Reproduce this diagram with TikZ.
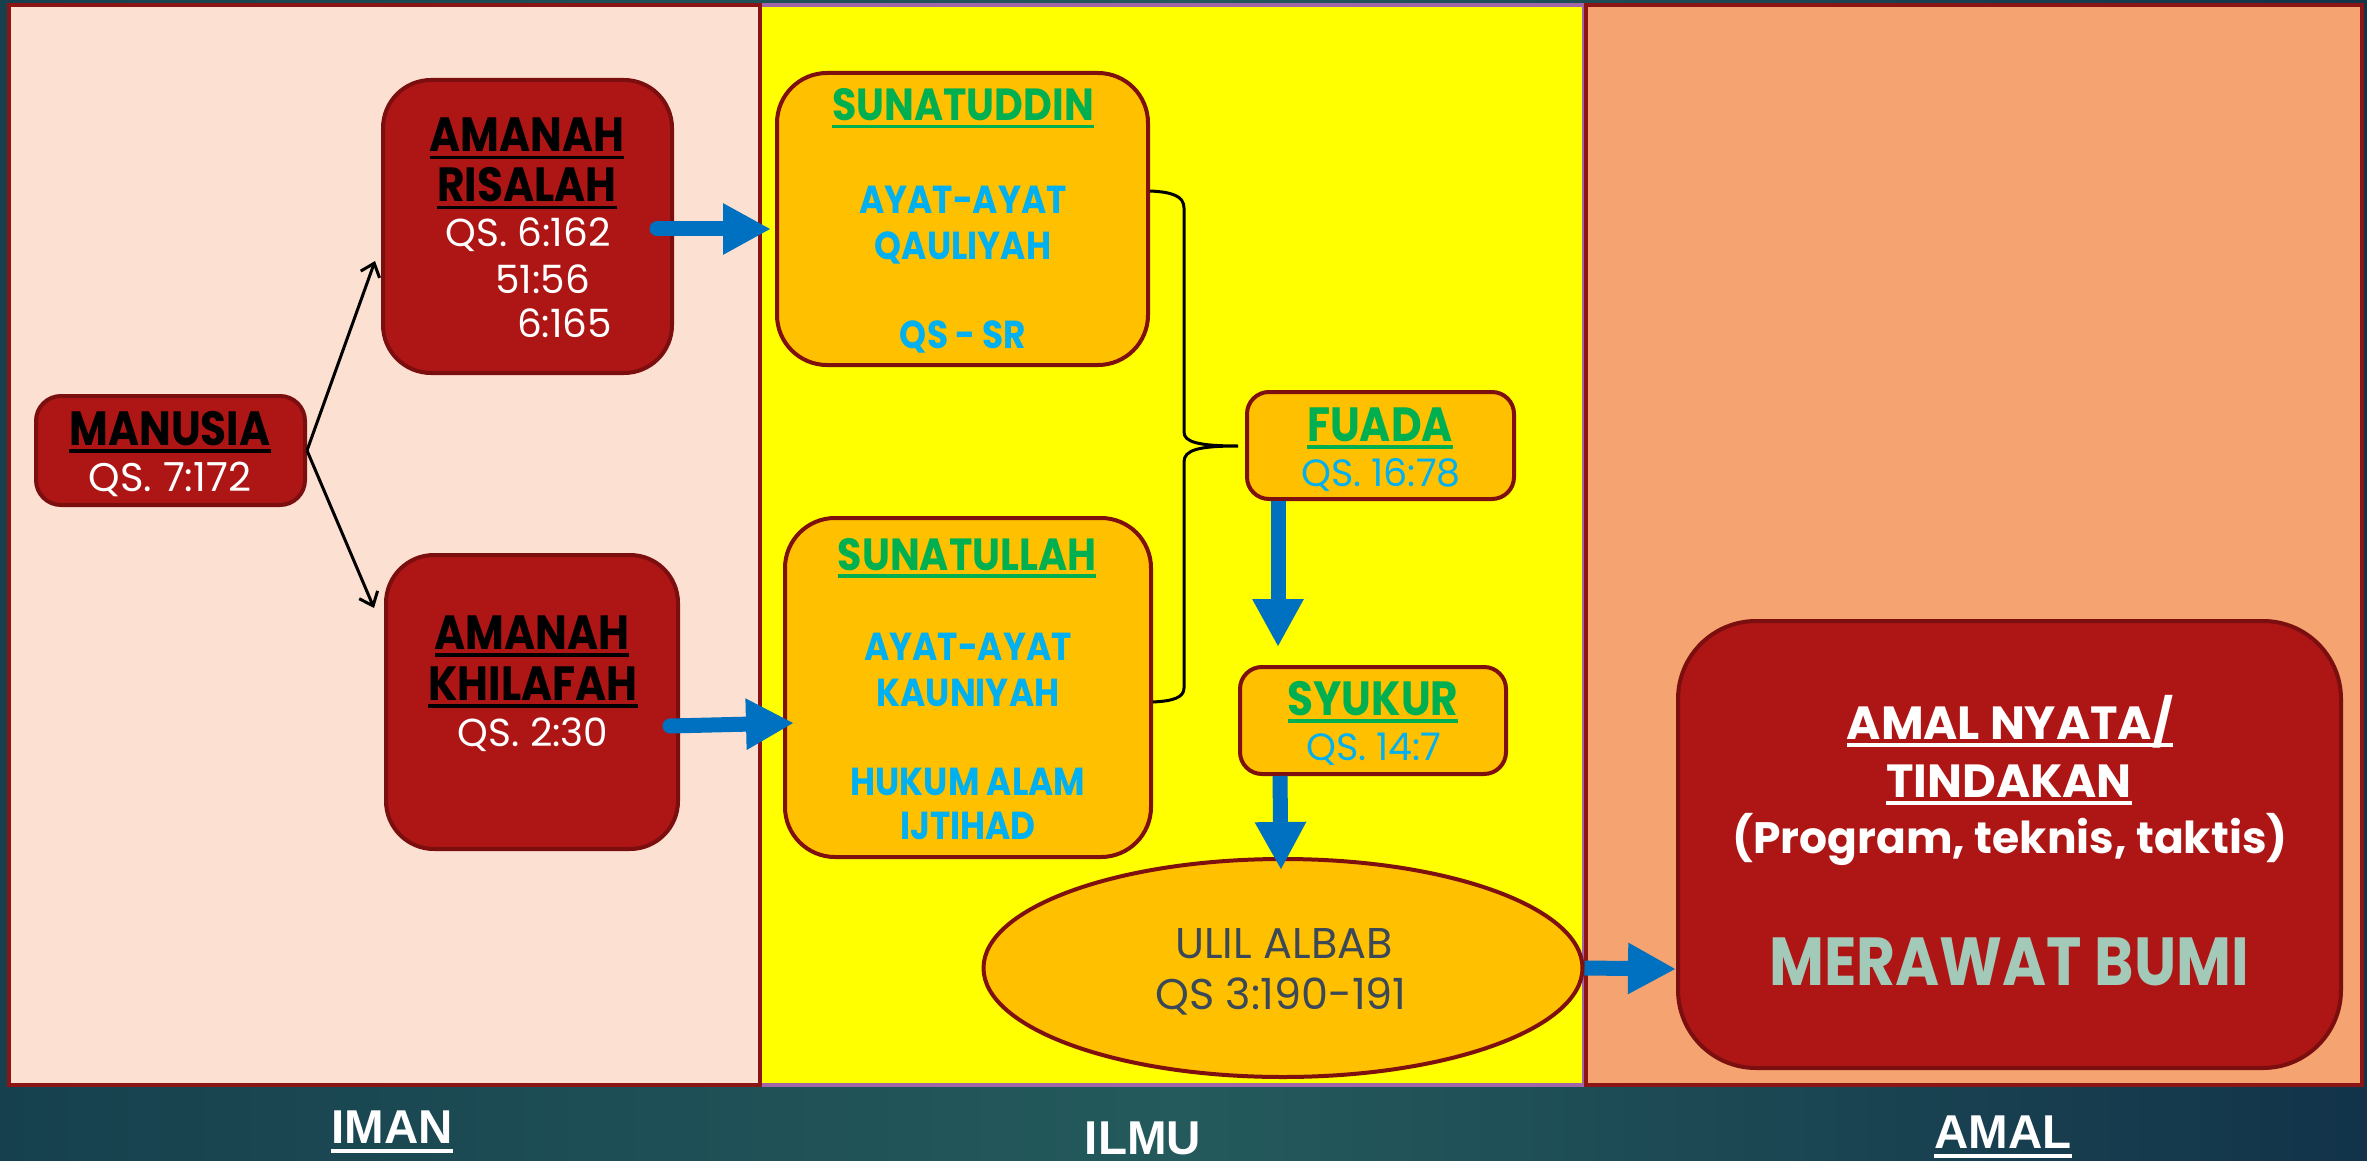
\documentclass[tikz,border=0pt]{standalone}
\usepackage{fontspec}
\setmainfont{Poppins}[FakeStretch=0.88]
\newfontfamily\popn{Poppins}
\newfontfamily\lblfont{Liberation Sans}
\newlength\uldp \setlength\uldp{4pt}
\newlength\ulth \setlength\ulth{3.5pt}
\newsavebox\ulbox
\newcommand\ulx[1]{\sbox\ulbox{#1}\rlap{\vrule height -\uldp depth \dimexpr\uldp+\ulth\relax width \wd\ulbox}\usebox\ulbox}
\usetikzlibrary{arrows.meta,shapes.geometric,calc}
\definecolor{bgleft}{HTML}{16404E}
\definecolor{bgmid}{HTML}{245A5C}
\definecolor{bgright}{HTML}{12334A}
\definecolor{imanfill}{HTML}{FCE0D1}
\definecolor{panelred}{HTML}{8B1414}
\definecolor{ilmuline}{HTML}{A066A8}
\definecolor{ilmufill}{HTML}{FFFF00}
\definecolor{amalfill}{HTML}{F4A371}
\definecolor{redfill}{HTML}{AE1515}
\definecolor{redline}{HTML}{7B0E0E}
\definecolor{orangefill}{HTML}{FFC000}
\definecolor{orangeline}{HTML}{7F1010}
\definecolor{txtgreen}{HTML}{00B050}
\definecolor{txtcyan}{HTML}{00B0F0}
\definecolor{arrowblue}{HTML}{0070C0}
\definecolor{txtdark}{HTML}{3A4858}
\definecolor{sage}{HTML}{A3C9B9}
\begin{document}
\begin{tikzpicture}[x=1pt,y=-1pt,
  panel/.style={line width=4pt},
  redbox/.style={draw=redline,line width=4pt,fill=redfill,rounded corners=#1,inner sep=0},
  orbox/.style={draw=orangeline,line width=4pt,fill=orangefill,rounded corners=#1,inner sep=0},
  txt/.style={anchor=base,inner sep=0},
  blk/.style={txt,text=black,font=\bfseries\fontsize{48}{54}\selectfont},
  wht/.style={txt,text=white,font=\popn\fontsize{39}{46}\selectfont},
  grn/.style={txt,text=txtgreen,font=\bfseries\fontsize{45}{52}\selectfont},
  cyb/.style={txt,text=txtcyan,font=\bfseries\fontsize{39}{46}\selectfont},
  cyr/.style={txt,text=txtcyan,font=\popn\fontsize{38}{44}\selectfont},
  drk/.style={txt,text=txtdark,font=\popn\fontsize{43}{50}\selectfont},
  whb/.style={txt,text=white,font=\popn\bfseries\fontsize{46.5}{52}\selectfont},
  lbl/.style={txt,text=white,font=\lblfont\bfseries\fontsize{47.5}{54}\selectfont},
  barb/.style={draw=black,line width=3pt,-{Straight Barb[length=12pt,width=20pt]}},
  bluearrow/.style={draw=arrowblue,line width=15pt,-{Triangle[length=48pt,width=48pt]}},
  bracket/.style={draw=black,line width=3pt}
]
\useasboundingbox (0,0) rectangle (2367,1161);
\shade[left color=bgleft,right color=bgright,middle color=bgmid] (0,0) rectangle (2367,1161);

% panels
\draw[panel,draw=ilmuline,fill=ilmufill] (760,5) rectangle (1584,1085);
\draw[panel,draw=panelred,fill=imanfill] (9,5) rectangle (760,1085);
\draw[panel,draw=panelred,fill=amalfill] (1586,5) rectangle (2362,1085);

% boxes
\node[redbox=25pt,minimum width=269pt,minimum height=109pt] (manusia) at (170.5,450.5) {};
\node[redbox=48pt,minimum width=289pt,minimum height=293pt] (risalah) at (527.5,226.5) {};
\node[redbox=48pt,minimum width=292pt,minimum height=294pt] (khilafah) at (532,702) {};
\node[orbox=50pt,minimum width=371pt,minimum height=292pt] (sunatuddin) at (962.5,219) {};
\node[orbox=50pt,minimum width=366pt,minimum height=339pt] (sunatullah) at (968,687.5) {};
\node[orbox=22pt,minimum width=267pt,minimum height=107pt] (fuada) at (1380.5,445.5) {};
\node[orbox=22pt,minimum width=266pt,minimum height=107pt] (syukur) at (1373,720.5) {};
\node[ellipse,draw=orangeline,line width=4pt,fill=orangefill,minimum width=599pt,minimum height=218pt,inner sep=0] (ulil) at (1283,968) {};
\node[redbox=78pt,minimum width=663pt,minimum height=447pt] (amalbox) at (2009.5,844.5) {};

% texts
\node[blk] (manusiaA) at (170,445) {\ulx{MANUSIA}};
\node[wht,font=\popn\fontsize{40}{46}\selectfont] (manusiaB) at (170,491) {QS. 7:172};

\node[blk] (risalahA) at (527,152) {\ulx{AMANAH}};
\node[blk] (risalahB) at (527,202) {\ulx{RISALAH}};
\node[wht] (risalahC) at (528,247) {QS. 6:162};
\node[wht] (risalahD) at (542.5,293) {51:56};
\node[wht] (risalahE) at (564.5,337) {6:165};

\node[blk] (khilafahA) at (532,649) {\ulx{AMANAH}};
\node[blk] (khilafahB) at (533,700) {\ulx{KHILAFAH}};
\node[wht] (khilafahC) at (533,746) {QS. 2:30};

\node[grn] (sunatuddinA) at (963,121) {\ulx{SUNATUDDIN}};
\node[cyb] (sunatuddinB) at (963,214) {AYAT-AYAT};
\node[cyb] (sunatuddinC) at (963,259) {QAULIYAH};
\node[cyb] (sunatuddinD) at (963,348) {QS - SR};

\node[grn] (sunatullahA) at (967,570) {\ulx{SUNATULLAH}};
\node[cyb] (sunatullahB) at (968,660) {AYAT-AYAT};
\node[cyb] (sunatullahC) at (968,706) {KAUNIYAH};
\node[cyb] (sunatullahD) at (968,795) {HUKUM ALAM};
\node[cyb] (sunatullahE) at (968,839) {IJTIHAD};

\node[grn,font=\bfseries\fontsize{48}{54}\selectfont] (fuadaA) at (1380,441) {\ulx{FUADA}};
\node[cyr] (fuadaB) at (1381,486) {QS. 16:78};
\node[grn,font=\bfseries\fontsize{48}{54}\selectfont] (syukurA) at (1373,715) {\ulx{SYUKUR}};
\node[cyr] (syukurB) at (1374,760) {QS. 14:7};

\node[drk] (ulilA) at (1284,958) {ULIL ALBAB};
\node[drk] (ulilB) at (1281,1009) {QS 3:190-191};

\node[whb] (amalA) at (2010,739) {\ulx{AMAL NYATA/}};
\node[whb] (amalB) at (2009,797) {\ulx{TINDAKAN}};
\node[whb,font=\popn\bfseries\fontsize{44}{50}\selectfont] (amalC) at (2010,853) {(Program, teknis, taktis)};
\node[txt,text=sage,font=\bfseries\fontsize{68}{74}\selectfont] (amalD) at (2009,985) {MERAWAT BUMI};

% bottom labels
\setlength{\uldp}{6pt}
\node[lbl] (imanL) at (392,1143) {\ulx{IMAN}};
\node[lbl] (ilmuL) at (1143,1154) {ILMU};
\node[lbl] (amalL) at (2003,1148) {\ulx{AMAL}};

% black arrows
\draw[barb] (manusia.east) -- ([shift={(-6,34.5)}]risalah.west);
\draw[barb] (manusia.east) -- ([shift={(-10,-94)}]khilafah.west);

% bracket
\draw[bracket] ([shift={(0,-28)}]sunatuddin.east)
  .. controls (1172,192) and (1184,196) .. (1184,208)
  -- (1184,432)
  .. controls (1184,442) and (1198,446) .. ([shift={(-7,0.5)}]fuada.west)
  .. controls (1198,446) and (1184,450) .. (1184,462)
  -- (1184,688)
  .. controls (1184,698) and (1172,701) .. ([shift={(0,14.5)}]sunatullah.east);

% blue arrows
\draw[bluearrow,line cap=round] ([shift={(-17,2.5)}]risalah.east) -- ([shift={(-4,10)}]sunatuddin.west);
\draw[bluearrow,line cap=round] ([shift={(-10,24)}]khilafah.east) -- ([shift={(11,35.5)}]sunatullah.west);
\draw[bluearrow] ([shift={(-102.5,0)}]fuada.south) -- ([shift={(-95,-18)}]syukur.north);
\draw[bluearrow] ([shift={(-93,0)}]syukur.south) -- ([shift={(-2,13)}]ulil.north);
\draw[bluearrow] (ulil.east) -- ([shift={(0,124.5)}]amalbox.west);
\end{tikzpicture}
\end{document}
